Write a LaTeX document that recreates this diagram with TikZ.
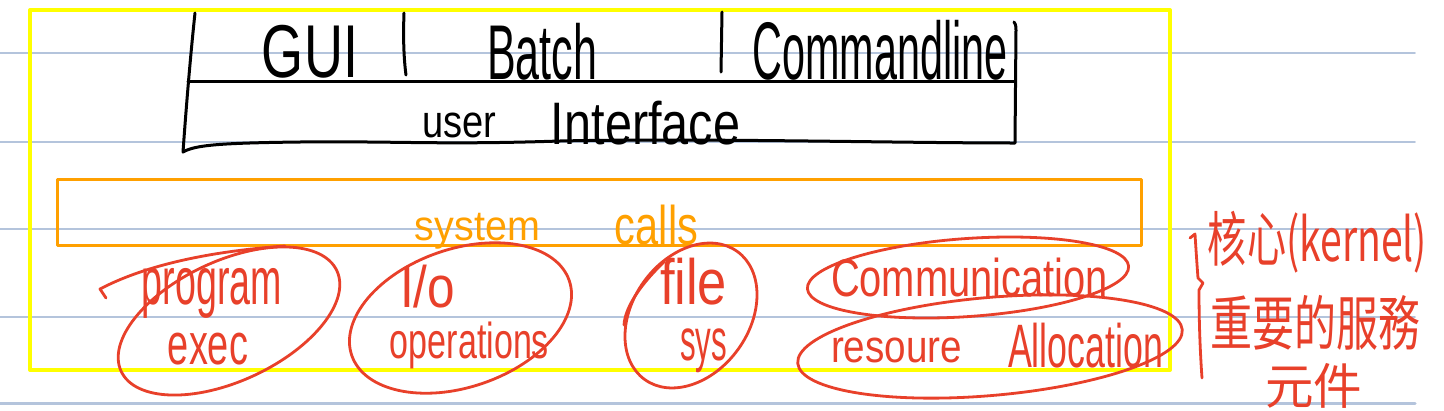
\documentclass[tikz,border=0pt]{standalone}
\usepackage{fontspec}
\usepackage{graphicx}
\setmainfont{Liberation Sans}
\newfontfamily\cjk{Noto Sans CJK TC}
\definecolor{ruleblue}{HTML}{B4C4DC}
\definecolor{hlyellow}{HTML}{FFFF00}
\definecolor{penorange}{HTML}{FFA000}
\definecolor{penred}{HTML}{E8402A}
\newcommand\hw[3]{\resizebox*{#1pt}{#2pt}{#3}}
\begin{document}
\begin{tikzpicture}[x=1pt,y=-1pt,line cap=round,line join=round,
  rule/.style={draw=ruleblue,line width=1.6pt},
  txt/.style={inner sep=0pt,outer sep=0pt},
  blacktxt/.style={txt,text=black},
  orangetxt/.style={txt,text=penorange},
  redtxt/.style={txt,text=penred},
  ink/.style={draw=black,line width=3pt},
  redink/.style={draw=penred,line width=2.8pt}]
\useasboundingbox (0,0) rectangle (1444,410);
\fill[white] (0,0) rectangle (1444,410);
% ruled lines
\foreach \yy in {53,142,229,317} \draw[rule] (0,\yy) -- (1415,\yy);
\draw[rule,line width=3pt] (0,403) -- (1415,403);
% highlight boxes
\draw[draw=hlyellow,line width=4pt] (30,10) rectangle (1170,370);
\draw[draw=penorange,line width=3pt] (57,179) rectangle (1141,245);
% black UI box
\draw[ink] (195,13) .. controls (190,60) and (186,110) .. (183,152)
  .. controls (195,145) and (220,143) .. (300,142)
  .. controls (400,141) and (440,145) .. (560,141)
  .. controls (700,138) and (900,143) .. (1015,143) -- (1016,30)
  .. controls (1016,25) and (1015,23) .. (1014,22);
\draw[ink] (188,81) -- (1015,81);
\draw[ink] (404,13) .. controls (403,40) and (404,60) .. (406,75);
\draw[ink] (722,12) -- (721,72);
\node[blacktxt] (gui) at (310,51.5) {\hw{96}{53}{GUI}};
\node[blacktxt] (batch) at (542,51.5) {\hw{110}{57}{Batch}};
\node[blacktxt] (cmd) at (880,50.5) {\hw{255}{60}{Commandline}};
\node[blacktxt] (user) at (459,125.5) {\hw{74}{25}{user}};
\node[blacktxt] (iface) at (645.5,123.5) {\hw{189}{44}{Interface}};
% system calls
\node[orangetxt] (sys) at (477.5,231) {\hw{125}{36}{system}};
\node[orangetxt] (calls) at (656.5,225) {\hw{83}{40}{calls}};
% red ellipses
\draw[redink,rotate around={25:(229,321)}] (229,321) ellipse (119 and 60);
\draw[redink] (106,298) -- (100,289) .. controls (140,268) and (200,252) .. (285,246);
\draw[redink,rotate around={19:(460.5,318)}] (460.5,318) ellipse (115 and 69);
\draw[redink,rotate around={54:(691,315.5)}] (691,315.5) ellipse (79 and 58);
\draw[redink] (664,262) .. controls (645,280) and (625,305) .. (624,325);
\draw[redink,rotate around={4:(968,277.5)}] (968,277.5) ellipse (161 and 39);
\draw[redink,rotate around={5:(990,346.5)}] (990,346.5) ellipse (193 and 49);
% red texts
\node[redtxt] (prog) at (212,293.5) {\hw{140}{50}{program}};
\node[redtxt] (exec) at (208,349) {\hw{80}{32}{exec}};
\node[redtxt] (io) at (427.5,287) {\hw{55}{43}{I/o}};
\node[redtxt] (ops) at (469.5,345) {\hw{159}{47}{operations}};
\node[redtxt] (file) at (693.5,281.5) {\hw{67}{47}{file}};
\node[redtxt] (fsys) at (703.5,351) {\hw{47}{44}{sys}};
\node[redtxt] (comm) at (969.5,277.5) {\hw{277}{39}{Communication}};
\node[redtxt] (res) at (896.5,350.5) {\hw{131}{25}{resoure}};
\node[redtxt] (alloc) at (1085.5,345.5) {\hw{155}{45}{Allocation}};
% right-hand brace and notes
\draw[redink] (1190,238) -- (1195,234) .. controls (1196,250) and (1197,265) .. (1198,278)
  -- (1203,283) -- (1199,290) .. controls (1199,320) and (1200,350) .. (1202,378);
\node[redtxt] (kern) at (1317.5,242.5) {\hw{219}{62}{\cjk 核心(kernel)}};
\node[redtxt] (svc) at (1315,322.5) {\hw{210}{55}{\cjk 重要的服務}};
\node[redtxt] (comp) at (1313.5,385.5) {\hw{97}{45}{\cjk 元件}};
\end{tikzpicture}
\end{document}
